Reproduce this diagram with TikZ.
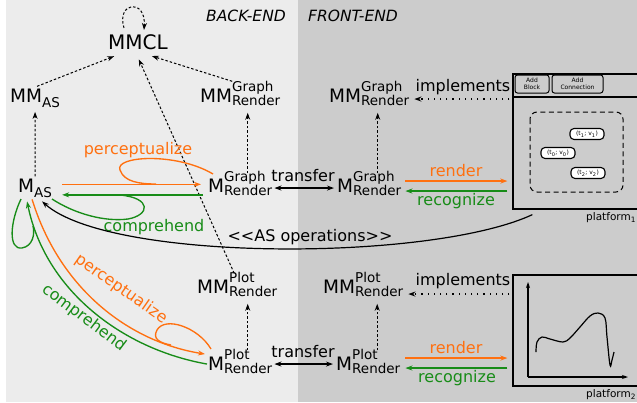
\documentclass[tikz,border=0pt]{standalone}
\usepackage{fontspec}
\setmainfont{DejaVu Sans}
\usetikzlibrary{arrows.meta,calc}
\definecolor{cECECEC}{RGB}{236,236,236}
\definecolor{cCCCCCC}{RGB}{204,204,204}
\definecolor{cFF7010}{RGB}{255,112,16}
\definecolor{c188C18}{RGB}{24,140,24}
\newcommand{\stk}[3]{#1\raisebox{-3.3pt}{\fontsize{13.5}{11}\selectfont\begin{tabular}[b]{@{}l@{}}#2\\#3\end{tabular}}}
\newcommand{\asub}[2][-5pt]{#2\raisebox{#1}{\fontsize{13.5}{14}\selectfont AS}}

\begin{document}
\begin{tikzpicture}[x=1pt,y=1pt,yscale=-1,
    >={Stealth[length=7pt,width=5pt]},
    mlbl/.style={font=\fontsize{18.5}{20}\selectfont, inner sep=2pt, anchor=base west},
    wlbl/.style={font=\fontsize{16}{18}\selectfont, inner sep=1pt},
    dasharr/.style={->, line width=1pt, dash pattern=on 2.5pt off 2pt},
    dotarr/.style={->, line width=1.2pt, dash pattern=on 1.2pt off 5pt},
    oarr/.style={->, draw=cFF7010, line width=1.35pt},
    garr/.style={->, draw=c188C18, line width=1.35pt},
    oline/.style={draw=cFF7010, line width=1.35pt},
    gline/.style={draw=c188C18, line width=1.35pt},
    platbox/.style={draw, line width=1.3pt, inner sep=0pt},
    btn/.style={draw, line width=1pt, rounded corners=2.5pt, align=center,
      font=\fontsize{6}{6.5}\selectfont, inner sep=0.5pt},
    tv/.style={draw, fill=white, line width=1.1pt, rounded corners=4pt,
      font=\fontsize{6}{7}\selectfont, minimum width=34pt, minimum height=11pt, inner sep=1pt}]
  \useasboundingbox (0,0) rectangle (637,402);
  \path[fill=cECECEC] (6,0) rectangle (298,402);
  \path[fill=cCCCCCC] (298,0) rectangle (637,402);
  \node[font=\fontsize{15.5}{17}\selectfont\itshape] (back) at (246,16) {BACK-END};
  \node[font=\fontsize{15.5}{17}\selectfont\itshape] (front) at (353,16) {FRONT-END};

  % models and meta-models
  \node[mlbl, font=\fontsize{20}{22}\selectfont] (mmcl) at (106,49) {MMCL};
  \node[mlbl] (mmas) at (8,102) {\asub[-5.5pt]{MM}};
  \node[mlbl] (mmgb) at (198,102) {\stk{MM}{Graph}{Render}};
  \node[mlbl] (mmgf) at (327,102) {\stk{MM}{Graph}{Render}};
  \node[mlbl] (mas) at (16,192) {\asub{M}};
  \node[mlbl] (mgb) at (206,192) {\stk{M}{Graph}{Render}};
  \node[mlbl] (mgf) at (335,192) {\stk{M}{Graph}{Render}};
  \node[mlbl] (mmpb) at (195,293) {\stk{MM}{Plot}{Render}};
  \node[mlbl] (mmpf) at (321,293) {\stk{MM}{Plot}{Render}};
  \node[mlbl] (mpb) at (206,370) {\stk{M}{Plot}{Render}};
  \node[mlbl] (mpf) at (334,370) {\stk{M}{Plot}{Render}};

  % platform 1
  \node[platbox, minimum width=132pt, minimum height=135pt] (plat1) at (579,141.5) {};
  \draw[line width=1.3pt] (plat1.west |- 0,97) -- (plat1.east |- 0,97);
  \node[btn, minimum width=34pt, minimum height=18pt] (addblk) at (532,84) {Add\\Block};
  \node[btn, minimum width=51pt, minimum height=18pt] (addcon) at (577.5,84) {Add\\Connection};
  \draw[line width=1pt, rounded corners=7pt, dash pattern=on 5pt off 3.5pt] (530,112) rectangle (623,192);
  \node[tv] (tv1) at (587,134) {(t\textsubscript{1}; v\textsubscript{1})};
  \node[tv] (tv0) at (558,153) {(t\textsubscript{0}; v\textsubscript{0})};
  \node[tv] (tv2) at (588,173) {(t\textsubscript{2}; v\textsubscript{2})};
  \node[font=\fontsize{10.5}{12}\selectfont, anchor=west, inner sep=0pt] (p1lbl) at (586,218) {platform\textsubscript{1}};

  % platform 2
  \node[platbox, minimum width=132pt, minimum height=111pt] (plat2) at (579,330.5) {};
  \draw[->, line width=1.1pt, >={Stealth[length=6pt,width=4pt]}] (528,377) -- (528,282);
  \draw[->, line width=1.1pt, >={Stealth[length=6pt,width=4pt]}] (528,377) -- (628,377);
  \draw[line width=1.2pt] plot[smooth, tension=0.6] coordinates {(536,352) (537,342) (542,337)
    (550,339) (563,342) (570,338) (580,327) (590,316) (598,313) (605,318) (607,337) (610,365)
    (612,360) (614,352)};
  \node[font=\fontsize{10.5}{12}\selectfont, anchor=west, inner sep=0pt] (p2lbl) at (586,395) {platform\textsubscript{2}};

  % conformance to meta-models
  \draw[dasharr] ($(mmcl.north)+(-14,-4)$) .. controls ($(mmcl.north)+(-22,-30)$) and ($(mmcl.north)+(8,-34)$) .. ($(mmcl.north)+(6,-2)$);
  \draw[dasharr, shorten >=2pt] ($(mmas.north)+(2,0)$) -- ($(mmcl.south)+(-22,4)$);
  \draw[dasharr, shorten >=2pt] ($(mmgb.north)+(-8,2)$) -- ($(mmcl.south)+(12,4)$);
  \draw[dasharr, shorten >=2pt] ($(mmpb.north)+(-3,3)$) -- ($(mmcl.south)+(0,6)$);
  \draw[dasharr, shorten >=2pt] (mas.north) -- (mmas.south);
  \coordinate (vgb) at ($(mgb.north)+(7.5,4)$);
  \draw[dasharr, shorten >=2pt] (vgb) -- (vgb |- mmgb.south);
  \coordinate (vgf) at ($(mgf.north)+(8.5,4)$);
  \draw[dasharr, shorten >=2pt] (vgf) -- (vgf |- mmgf.south);
  \coordinate (vpb) at ($(mpb.north)+(7.5,3)$);
  \draw[dasharr, shorten >=2pt] (vpb) -- (vpb |- mmpb.south);
  \coordinate (vpf) at ($(mpf.north)+(9,3)$);
  \draw[dasharr, shorten >=2pt] (vpf) -- (vpf |- mmpf.south);

  % implements
  \coordinate (im1) at ($(mmgf.east)+(0,4)$);
  \draw[dotarr, shorten >=3pt, shorten <=3pt] (im1 -| plat1.west) -- (im1);
  \node[wlbl] (impl1) at (463,87) {implements};
  \coordinate (im2) at ($(mmpf.east)+(0,8)$);
  \draw[dotarr, shorten >=3pt, shorten <=3pt] (im2 -| plat2.west) -- (im2);
  \node[wlbl] (impl2) at (463,281) {implements};

  % transfer
  \coordinate (tg) at ($(mgb.east)+(0,3)$);
  \draw[<->, line width=1.2pt, shorten >=1pt] (tg) -- (tg -| mgf.west);
  \node[wlbl] (trg) at (303,176) {transfer};
  \coordinate (tp) at ($(mpb.east)+(0,1)$);
  \draw[<->, line width=1.2pt, shorten >=1pt] (tp) -- (tp -| mpf.west);
  \node[wlbl] (trp) at (303,352) {transfer};

  % render / recognize
  \coordinate (rog) at ($(mgf.east)+(2,-4)$);
  \draw[oarr, shorten >=5pt] (rog) -- (rog -| plat1.west);
  \coordinate (rgg) at ($(mgf.east)+(2,6)$);
  \draw[garr, shorten <=5pt] (rgg -| plat1.west) -- (rgg);
  \node[wlbl, text=cFF7010] (rndg) at (456,171) {render};
  \node[wlbl, text=c188C18] (recg) at (456,201) {recognize};
  \coordinate (rop) at ($(mpf.east)+(3,-5)$);
  \draw[oarr, shorten >=5pt] (rop) -- (rop -| plat2.west);
  \coordinate (rgp) at ($(mpf.east)+(3,5)$);
  \draw[garr, shorten <=5pt] (rgp -| plat2.west) -- (rgp);
  \node[wlbl, text=cFF7010] (rndp) at (456,348) {render};
  \node[wlbl, text=c188C18] (recp) at (457,378) {recognize};

  % perceptualize / comprehend (graph)
  \coordinate (pg) at ($(mas.east)+(8,-3.5)$);
  \draw[oarr, shorten >=5pt] (pg) -- (pg -| mgb.west);
  \draw[oline] (213,174) .. controls (176,152) and (114,156) .. (120,170)
    .. controls (124,182) and (140,184) .. (156,184);
  \node[wlbl, text=cFF7010] (perg) at (138,150) {perceptualize};
  \coordinate (cg) at ($(mas.east)+(8,7)$);
  \draw[garr, shorten <=3pt] (cg -| mgb.west) -- (cg);
  \draw[gline] (52,199) .. controls (75,214) and (105,222) .. (128,219)
    .. controls (150,215) and (152,198) .. (120,195);
  \node[wlbl, text=c188C18] (comg) at (154,227) {comprehend};

  % perceptualize / comprehend (plot)
  \draw[oarr] ($(mas.south)+(-3,0)$) .. controls (60,290) and (130,342) .. ($(mpb.west)+(-1,-9)$);
  \draw[oline] (211,349) .. controls (198,327) and (165,316) .. (157,330)
    .. controls (152,339) and (160,343) .. (171,345);
  \node[wlbl, text=cFF7010, rotate=-35] (perp) at (121,289) {perceptualize};
  \draw[garr] ($(mpb.west)+(1,1)$) .. controls (122,349) and (45,290) .. ($(mas.south)+(-8,2)$);
  \draw[gline] (21,199) .. controls (10,222) and (8,250) .. (22,248)
    .. controls (33,246) and (35,234) .. (33,226);
  \node[wlbl, text=c188C18, rotate=-37] (comp) at (84,318) {comprehend};

  % AS operations
  \draw[->, line width=1.2pt] ($(plat1.south west)+(20,5)$) .. controls (430,262) and (110,262) .. ($(mas.south)+(7,2)$);
  \node[wlbl] (asop) at (310,237) {{<}{<}AS operations{>}{>}};
\end{tikzpicture}
\end{document}
